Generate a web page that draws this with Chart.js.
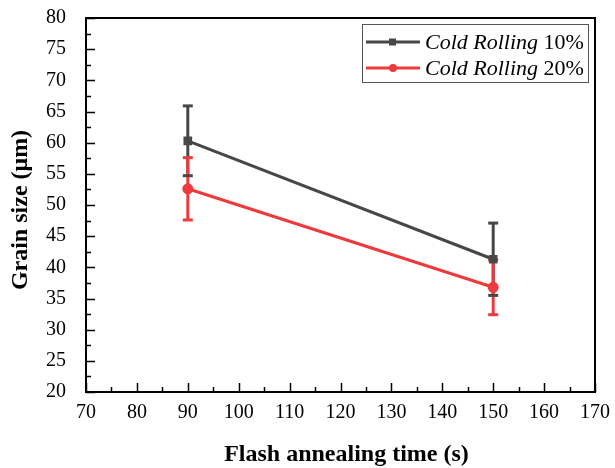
<!DOCTYPE html>
<html lang="en">
<head>
<meta charset="UTF-8">
<title>Grain size vs flash annealing time</title>
<style>
    body { margin: 0; background: #fff; }
    #wrap { width: 615px; height: 468px; }
</style>
</head>
<body>
<div id="wrap"><canvas id="myChart" width="615" height="468"></canvas></div>
<script src="https://cdn.jsdelivr.net/npm/chart.js"></script>
<script>
    // data
    const times = [90, 150];
    const cr10 = [60.3, 41.3];
    const cr10Err = [5.6, 5.8];
    const cr20 = [52.6, 36.8];
    const cr20Err = [5.0, 4.4];
    const seriesNames = ['10%', '20%'];
    const colors = ['#474747', '#ef3a3d'];

    const serif = '"Liberation Serif", "Times New Roman", serif';

    function pts(ys) { return times.map((t, i) => ({ x: t, y: ys[i] })); }

    // error bars, drawn from the scales
    const errorBars = {
        id: 'errorBars',
        beforeDatasetsDraw(chart) {
            const ctx = chart.ctx;
            const xs = chart.scales.x, ys = chart.scales.y;
            const sets = [[cr10, cr10Err, colors[0]], [cr20, cr20Err, colors[1]]];
            ctx.save();
            ctx.lineWidth = 3;
            sets.forEach(([vals, errs, col]) => {
                ctx.strokeStyle = col;
                vals.forEach((v, i) => {
                    const px = xs.getPixelForValue(times[i]);
                    ctx.beginPath();
                    ctx.moveTo(px, ys.getPixelForValue(v + errs[i]));
                    ctx.lineTo(px, ys.getPixelForValue(v - errs[i]));
                    ctx.stroke();
                });
            });
            sets.forEach(([vals, errs, col]) => {
                ctx.strokeStyle = col;
                vals.forEach((v, i) => {
                    const px = xs.getPixelForValue(times[i]);
                    [v + errs[i], v - errs[i]].forEach(e => {
                        const py = ys.getPixelForValue(e);
                        ctx.beginPath();
                        ctx.moveTo(px - 5, py);
                        ctx.lineTo(px + 5, py);
                        ctx.stroke();
                    });
                });
            });
            ctx.restore();
        }
    };

    // frame, inward ticks, axis titles, legend
    const decor = {
        id: 'decor',
        afterDraw(chart) {
            const ctx = chart.ctx;
            const a = chart.chartArea;
            const xs = chart.scales.x, ys = chart.scales.y;
            ctx.save();
            ctx.strokeStyle = '#000';
            ctx.lineWidth = 2;
            ctx.strokeRect(a.left, a.top, a.right - a.left, a.bottom - a.top);

            ctx.lineWidth = 1.5;
            ctx.beginPath();
            for (let v = 20; v <= 80; v += 2.5) {
                const py = Math.round(ys.getPixelForValue(v)) + 0.5;
                const len = (v % 5 === 0) ? 9 : 5;
                ctx.moveTo(a.left, py);
                ctx.lineTo(a.left + len, py);
            }
            for (let v = 70; v <= 170; v += 5) {
                const px = Math.round(xs.getPixelForValue(v)) + 0.5;
                const len = (v % 10 === 0) ? 9 : 5;
                ctx.moveTo(px, a.bottom);
                ctx.lineTo(px, a.bottom - len);
            }
            ctx.stroke();

            ctx.fillStyle = '#000';
            ctx.font = 'bold 24px ' + serif;
            ctx.textAlign = 'center';
            ctx.textBaseline = 'middle';
            ctx.fillText('Flash annealing time (s)', (a.left + a.right) / 2 + 6, 455);
            ctx.save();
            ctx.translate(21, (a.top + a.bottom) / 2 + 5);
            ctx.rotate(-Math.PI / 2);
            ctx.fillText('Grain size (\u03bcm)', 0, 0);
            ctx.restore();

            // legend
            ctx.lineWidth = 1;
            ctx.strokeStyle = '#555';
            ctx.strokeRect(362.5, 24.5, 226, 58);
            const rows = [42, 68];
            rows.forEach((ry, i) => {
                ctx.strokeStyle = colors[i];
                ctx.fillStyle = colors[i];
                ctx.lineWidth = 3;
                ctx.beginPath();
                ctx.moveTo(366, ry);
                ctx.lineTo(420, ry);
                ctx.stroke();
                if (i === 0) {
                    ctx.fillRect(389, ry - 3.5, 7, 7);
                } else {
                    ctx.beginPath();
                    ctx.arc(393, ry, 4, 0, Math.PI * 2);
                    ctx.fill();
                }
                ctx.fillStyle = '#000';
                ctx.textAlign = 'left';
                ctx.textBaseline = 'middle';
                ctx.font = 'italic 22px ' + serif;
                ctx.fillText('Cold Rolling', 425, ry + 1);
                const w = ctx.measureText('Cold Rolling ').width;
                ctx.font = '22px ' + serif;
                ctx.fillText(seriesNames[i], 425 + w, ry + 1);
            });
            ctx.restore();
        }
    };

    new Chart(document.getElementById('myChart'), {
        type: 'line',
        data: {
            datasets: [
                { label: 'Cold Rolling 10%', data: pts(cr10), borderColor: colors[0], backgroundColor: colors[0],
                  borderWidth: 3, pointStyle: 'rect', pointRadius: 4, fill: false },
                { label: 'Cold Rolling 20%', data: pts(cr20), borderColor: colors[1], backgroundColor: colors[1],
                  borderWidth: 3, pointStyle: 'circle', pointRadius: 4, fill: false }
            ]
        },
        options: {
            responsive: false,
            animation: false,
            layout: { padding: { top: 18, right: 20, left: 0, bottom: 0 } },
            plugins: { legend: { display: false }, tooltip: { enabled: false } },
            scales: {
                x: {
                    type: 'linear', min: 70, max: 170,
                    ticks: { stepSize: 10, padding: 9, maxRotation: 0, color: '#000', font: { family: serif, size: 20 } },
                    grid: { display: false, drawTicks: false },
                    border: { display: false },
                    afterFit(s) { s.height = 76; s.paddingLeft = 0; s.paddingRight = 0; }
                },
                y: {
                    min: 20, max: 80,
                    ticks: { stepSize: 5, padding: 20, color: '#000', font: { family: serif, size: 20 } },
                    grid: { display: false, drawTicks: false },
                    border: { display: false },
                    afterFit(s) { s.width = 86; s.paddingTop = 0; s.paddingBottom = 0; }
                }
            }
        },
        plugins: [errorBars, decor]
    });
</script>
</body>
</html>
